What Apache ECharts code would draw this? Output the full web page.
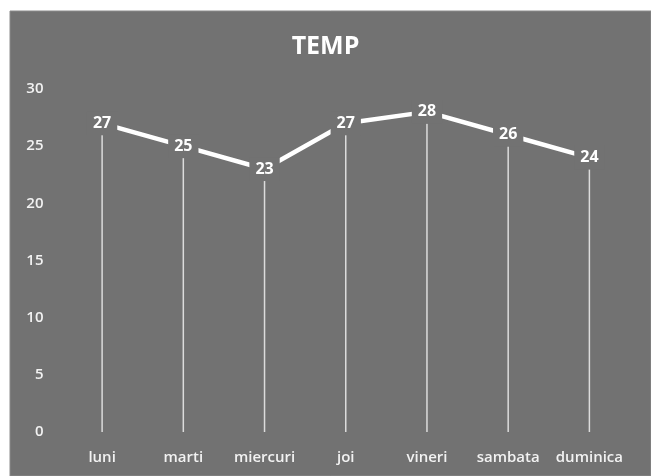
<!DOCTYPE html>
<html><head><meta charset="utf-8">
<script src="https://cdn.jsdelivr.net/npm/echarts@6/dist/echarts.min.js"></script>
<style>html,body{margin:0;padding:0;background:#fff;}#c{width:651px;height:476px;}</style>
</head><body><div id="c"></div>
<script>
const categories = ['luni','marti','miercuri','joi','vineri','sambata','duminica'];
const tempValues = [27, 25, 23, 27, 28, 26, 24];
const yTicks = [0, 5, 10, 15, 20, 25, 30];
const titleText = 'TEMP';

const bg = '#727272';
const chart = echarts.init(document.getElementById('c'));
chart.setOption({
  backgroundColor: '#ffffff',
  animation: false,
  graphic: [{type:'rect', z:-10, shape:{x:10,y:11,width:641,height:465}, style:{fill:bg, stroke:'#8a8a8a', lineWidth:1}}],
  title: {text: titleText, left: 'center', top: 29,
    textStyle: {color:'#ffffff', fontFamily:'Open Sans', fontWeight:'bold', fontSize:25}},
  grid: {left: 61.5, right: 21, top: 89, bottom: 44},
  xAxis: {type:'category', data: categories, boundaryGap: true,
    axisLine:{show:false}, axisTick:{show:false},
    axisLabel:{color:'#f2f2f2', fontFamily:'Open Sans', fontWeight:600, fontSize:15, margin:18, interval:0}},
  yAxis: {type:'value', min: yTicks[0], max: yTicks[yTicks.length-1], interval: 5,
    axisLine:{show:false}, axisTick:{show:false}, splitLine:{show:false},
    axisLabel:{color:'#f2f2f2', fontFamily:'Open Sans', fontWeight:600, fontSize:15, margin:18}},
  series: [
    {type:'bar', data: tempValues, barWidth: 1.5, itemStyle:{color:'#dcdcdc'}, z:1, silent:true},
    {type:'line', data: tempValues, z:3, symbol:'circle', symbolSize:1, showSymbol:true,
      lineStyle:{color:'#ffffff', width:4.5}, itemStyle:{color:'#ffffff'},
      label:{show:true, position:'inside', color:'#ffffff', fontFamily:'Open Sans', fontWeight:'bold', fontSize:16,
        backgroundColor: bg, padding:[4,6]}}
  ]
});
</script></body></html>
